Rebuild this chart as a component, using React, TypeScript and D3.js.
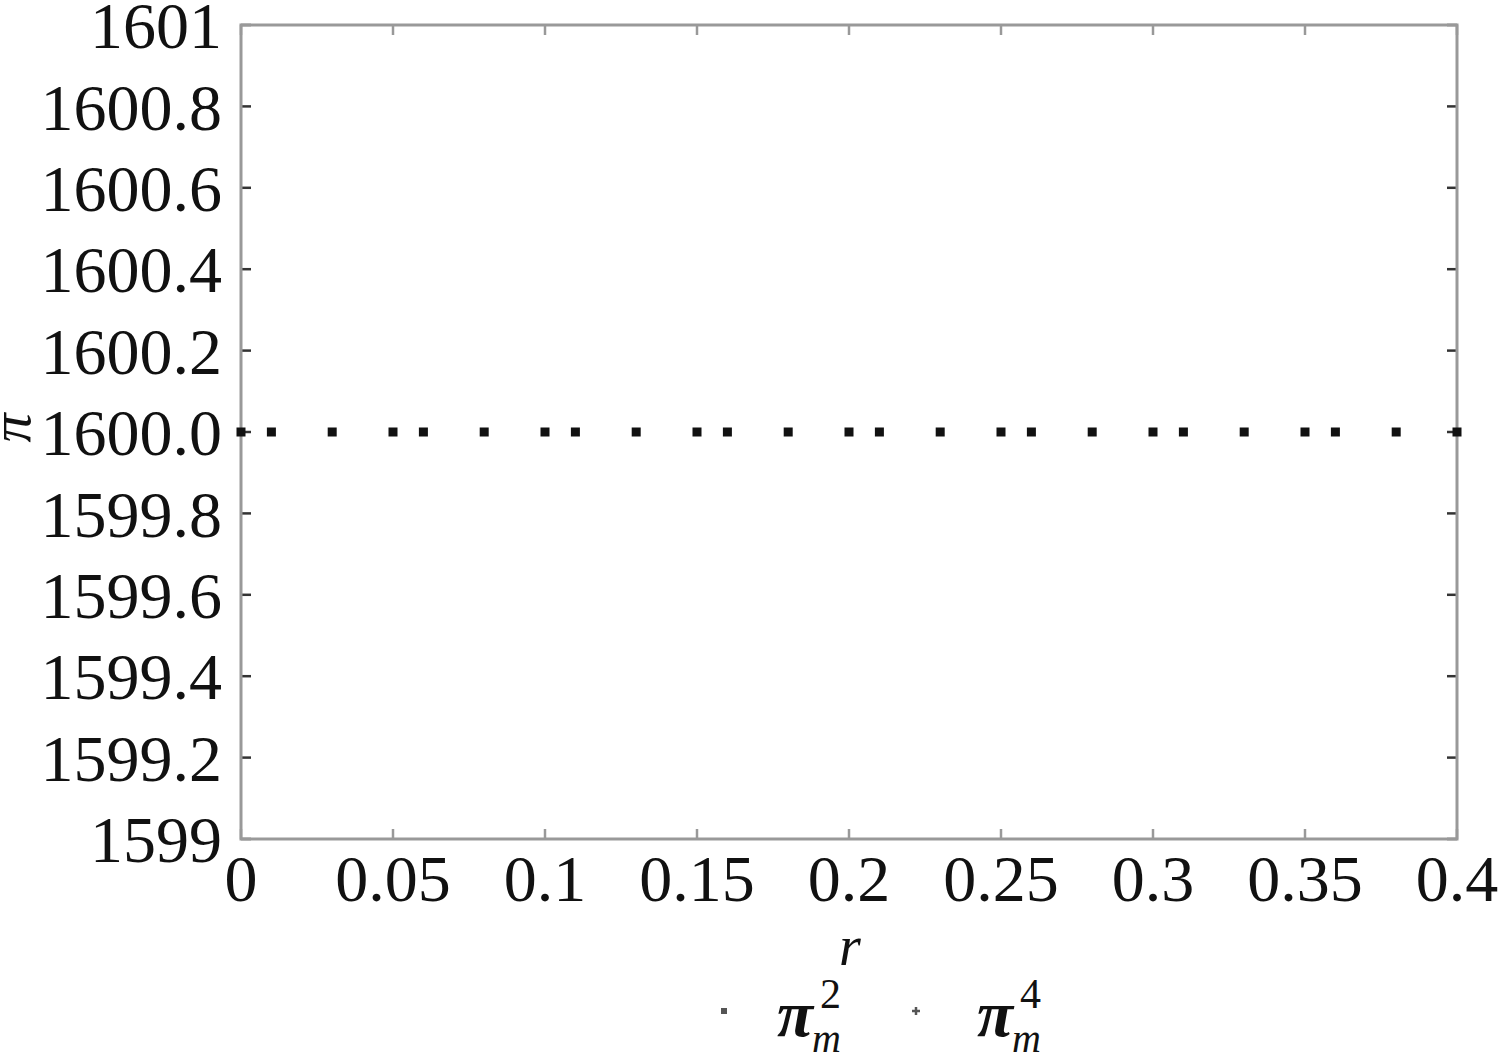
import React from "react";
import * as d3 from "d3";

const seriesA_r = [0, 0.05, 0.1, 0.15, 0.2, 0.25, 0.3, 0.35, 0.4];
const seriesA_pi = [1600, 1600, 1600, 1600, 1600, 1600, 1600, 1600, 1600];
const seriesB_r = [0.01, 0.03, 0.06, 0.08, 0.11, 0.13, 0.16, 0.18, 0.21, 0.23, 0.26, 0.28, 0.31, 0.33, 0.36, 0.38];
const seriesB_pi = [1600, 1600, 1600, 1600, 1600, 1600, 1600, 1600, 1600, 1600, 1600, 1600, 1600, 1600, 1600, 1600];
const yTicks = [1599, 1599.2, 1599.4, 1599.6, 1599.8, 1600, 1600.2, 1600.4, 1600.6, 1600.8, 1601];
const yTickLabels = ["1599", "1599.2", "1599.4", "1599.6", "1599.8", "1600.0", "1600.2", "1600.4", "1600.6", "1600.8", "1601"];
const xTicks = [0, 0.05, 0.1, 0.15, 0.2, 0.25, 0.3, 0.35, 0.4];
const xTickLabels = ["0", "0.05", "0.1", "0.15", "0.2", "0.25", "0.3", "0.35", "0.4"];

export default function App() {
  const W = 1502, H = 1057;
  const L = 241, R = 1457, T = 25, B = 839;
  const x = d3.scaleLinear().domain([0, 0.4]).range([L, R]);
  const y = d3.scaleLinear().domain([1599, 1601]).range([B, T]);
  const font = "'Liberation Serif', 'DejaVu Serif', serif";
  const fs = 66;
  const tick = 10;
  return (
    <svg width={W} height={H} style={{ position: "absolute", left: 0, top: 0, background: "#fff" }} fontFamily={font}>
      <rect x={0} y={0} width={W} height={H} fill="#fff" />
      {yTicks.map((t, i) => (
        <g key={"y" + i}>
          <line x1={L} x2={L + tick} y1={y(t)} y2={y(t)} stroke="#333" strokeWidth={2.5} />
          <line x1={R - tick} x2={R} y1={y(t)} y2={y(t)} stroke="#333" strokeWidth={2.5} />
          <text x={222} y={y(t)} dy="0.35em" textAnchor="end" fontSize={fs} fill="#111">{yTickLabels[i]}</text>
        </g>
      ))}
      {xTicks.map((t, i) => (
        <g key={"x" + i}>
          <line x1={x(t)} x2={x(t)} y1={B} y2={B - tick} stroke="#999" strokeWidth={2.5} />
          <line x1={x(t)} x2={x(t)} y1={T} y2={T + tick} stroke="#999" strokeWidth={2.5} />
          <text x={x(t)} y={901} textAnchor="middle" fontSize={fs} fill="#111">{xTickLabels[i]}</text>
        </g>
      ))}
      <rect x={L} y={T} width={R - L} height={B - T} fill="none" stroke="#999" strokeWidth={3} />
      {seriesA_r.map((r, i) => (
        <rect key={"a" + i} x={x(r) - 4.5} y={y(seriesA_pi[i]) - 4.5} width={9} height={9} fill="#111" />
      ))}
      {seriesB_r.map((r, i) => (
        <rect key={"b" + i} x={x(r) - 4.5} y={y(seriesB_pi[i]) - 4.5} width={9} height={9} fill="#111" />
      ))}
      <text x={850} y={965} textAnchor="middle" fontSize={56} fontStyle="italic" fill="#111">r</text>
      <text transform="translate(30,428) rotate(-90)" textAnchor="middle" fontSize={58} fontStyle="italic" fill="#111">π</text>
      <g>
        <rect x={721} y={1008} width={6} height={6} fill="#555" />
        <text x={777} y={1036} fontSize={66} fontStyle="italic" fontWeight="bold" fill="#111">π</text>
        <text x={820} y={1008} fontSize={42} fill="#111">2</text>
        <text x={812} y={1052} fontSize={40} fontStyle="italic" fill="#111">m</text>
        <line x1={912} x2={920} y1={1011} y2={1011} stroke="#555" strokeWidth={2.5} />
        <line x1={916} x2={916} y1={1007} y2={1015} stroke="#555" strokeWidth={2.5} />
        <text x={977} y={1036} fontSize={66} fontStyle="italic" fontWeight="bold" fill="#111">π</text>
        <text x={1020} y={1008} fontSize={42} fill="#111">4</text>
        <text x={1012} y={1052} fontSize={40} fontStyle="italic" fill="#111">m</text>
      </g>
    </svg>
  );
}
